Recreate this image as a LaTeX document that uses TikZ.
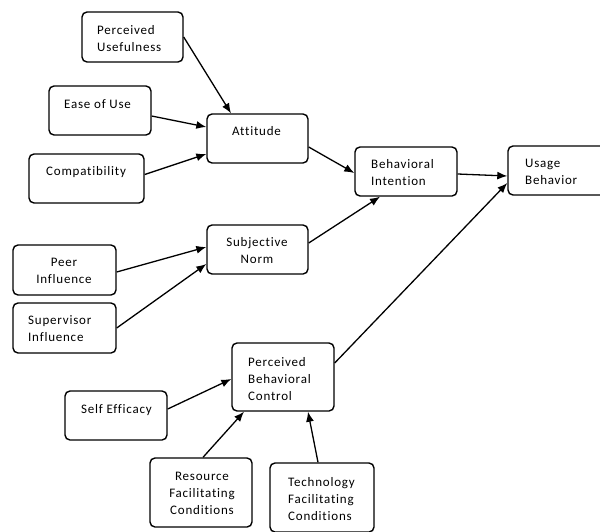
\documentclass[tikz,border=0pt]{standalone}
\usepackage{fontspec}
\setmainfont{Carlito}[LetterSpace=6,Ligatures={NoCommon}]
\usetikzlibrary{arrows.meta,calc}
\begin{document}
\begin{tikzpicture}[x=1pt,y=-1pt,
  box/.style={draw, line width=1.4pt, rounded corners=5pt, inner sep=0pt, fill=white},
  txt/.style={inner sep=0pt, font=\fontsize{13}{17}\selectfont, text=black},
  conn/.style={line width=1.3pt, -{Latex[length=10pt,width=8pt]}}]
\useasboundingbox (0,0) rectangle (600,531);
% boxes
\node[box, minimum width=101pt, minimum height=50pt] (pu) at (132.5,37) {};
\node[box, minimum width=102pt, minimum height=49pt] (eou) at (100,110.5) {};
\node[box, minimum width=115pt, minimum height=49pt] (compat) at (86.5,178.5) {};
\node[box, minimum width=101pt, minimum height=49pt] (att) at (257.5,138.5) {};
\node[box, minimum width=102pt, minimum height=49pt] (bi) at (406,171.5) {};
\node[box, minimum width=102pt, minimum height=49pt] (ub) at (559,170.5) {};
\node[box, minimum width=101pt, minimum height=49pt] (sn) at (257.5,249.5) {};
\node[box, minimum width=103pt, minimum height=50pt] (peer) at (64.5,270) {};
\node[box, minimum width=103pt, minimum height=50pt] (sup) at (64.5,328) {};
\node[box, minimum width=102pt, minimum height=68pt] (pbc) at (283,377) {};
\node[box, minimum width=102pt, minimum height=49pt] (se) at (116,415.5) {};
\node[box, minimum width=102pt, minimum height=69pt] (res) at (201,492.5) {};
\node[box, minimum width=104pt, minimum height=69pt] (tech) at (322,497.5) {};
% texts (base anchor = baseline of last line)
\node[txt, anchor=base west, align=left] (pu-t) at (97,51) {Perceived\\Usefulness};
\node[txt, anchor=base west] (eou-t) at (64,108) {Ease of Use};
\node[txt, anchor=base west] (compat-t) at (46,175) {Compatibility};
\node[txt, anchor=base west] (att-t) at (232,135) {Attitude};
\node[txt, anchor=base west, align=left] (bi-t) at (371,185) {Behavioral\\Intention};
\node[txt, anchor=base west, align=left] (ub-t) at (525,184) {Usage\\Behavior};
\node[txt, anchor=base, align=center] (sn-t) at (257,263) {Subjective\\Norm};
\node[txt, anchor=base, align=center] (peer-t) at (64,283) {Peer\\Influence};
\node[txt, anchor=base west, align=left] (sup-t) at (28,341) {Supervisor\\Influence};
\node[txt, anchor=base west, align=left] (pbc-t) at (248,400) {Perceived\\Behavioral\\Control};
\node[txt, anchor=base west] (se-t) at (81,413) {Self Efficacy};
\node[txt, anchor=base, align=center] (res-t) at (202,514) {Resource\\Facilitating\\Conditions};
\node[txt, anchor=base west, align=left] (tech-t) at (288,520) {Technology\\Facilitating\\Conditions};
% connectors
\draw[conn] (pu.east) -- ($(att.north)+(-26.5,0)$);
\draw[conn] ($(eou.east)+(0,5.5)$) -- ($(att.west)+(0,-11.5)$);
\draw[conn] ($(compat.east)+(0,-4)$) -- ($(att.west)+(0,15.5)$);
\draw[conn] ($(att.east)+(0,8.5)$) -- ($(bi.west)+(0,1.5)$);
\draw[conn] ($(sn.east)+(0,-6.5)$) -- ($(bi.south)+(-26,0)$);
\draw[conn] ($(bi.east)+(0,2.5)$) -- ($(ub.west)+(0,5.5)$);
\draw[conn] ($(pbc.east)+(0,-14)$) -- ($(ub.west)+(0,12.5)$);
\draw[conn] ($(peer.east)+(0,2)$) -- ($(sn.west)+(0,-2.5)$);
\draw[conn] (sup.east) -- ($(sn.west)+(0,14.5)$);
\draw[conn] ($(se.east)+(0,-6.5)$) -- ($(pbc.west)+(0,2)$);
\draw[conn] ($(res.north)+(2,0)$) -- ($(pbc.south)+(-39,0)$);
\draw[conn] ($(tech.north)+(-4,0)$) -- ($(pbc.south)+(25,0)$);
\end{tikzpicture}
\end{document}
